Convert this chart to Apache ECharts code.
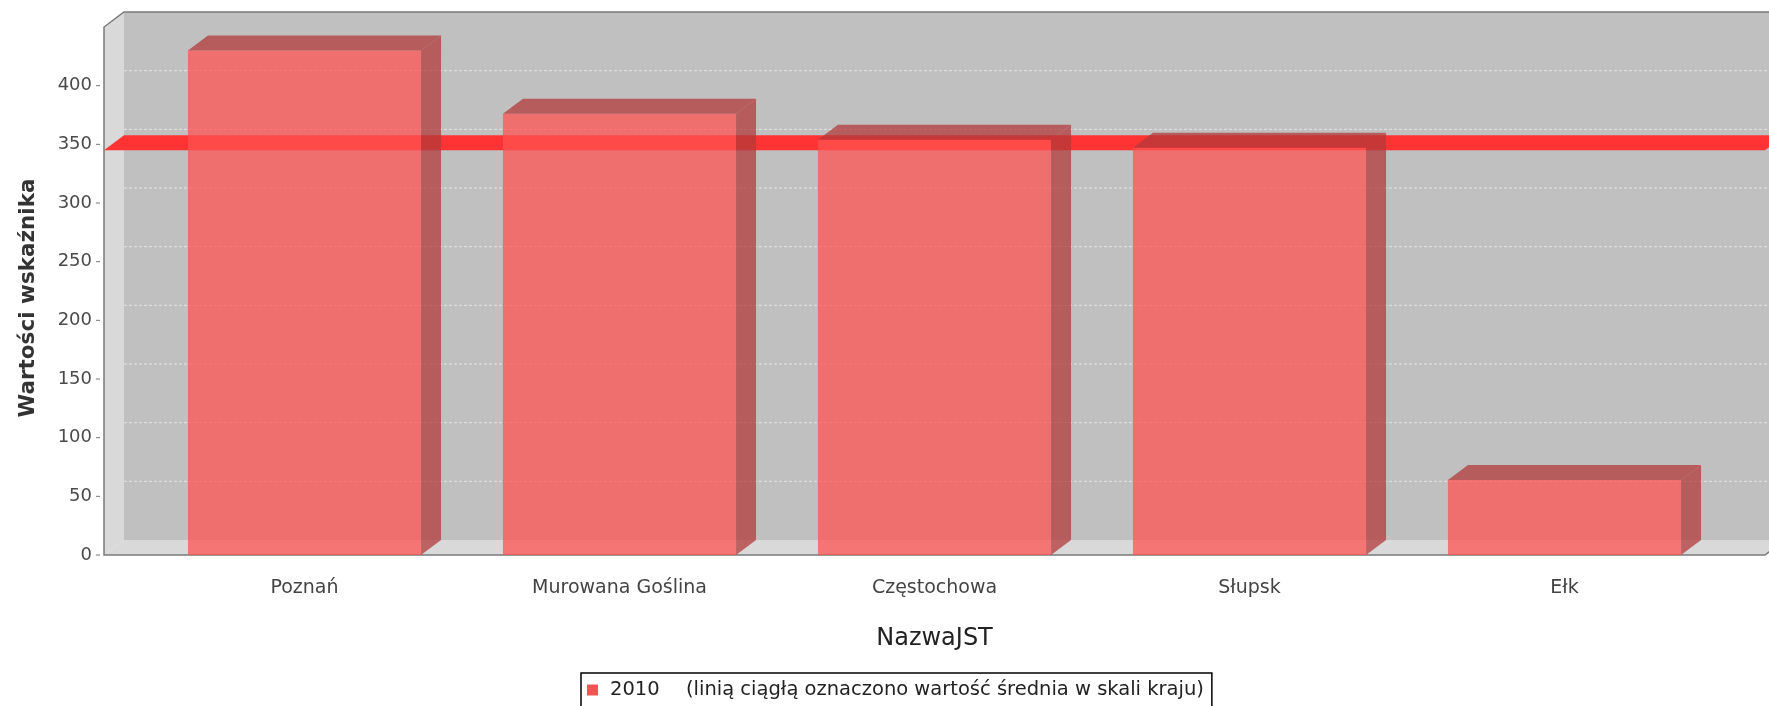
<!DOCTYPE html>
<html>
<head>
<meta charset="utf-8">
<script src="https://cdn.jsdelivr.net/npm/echarts@6/dist/echarts.min.js"></script>
<style>
html,body{margin:0;padding:0;background:#fff;}
#chart{width:1769px;height:706px;}
</style>
</head>
<body>
<div id="chart"></div>
<script>
// ---- data ----
const categories = ['Poznań', 'Murowana Goślina', 'Częstochowa', 'Słupsk', 'Ełk'];
const values2010 = [430, 376, 354, 347, 64];
const nationalAverage = [345];
const yTickValues = [0, 50, 100, 150, 200, 250, 300, 350, 400];
const seriesName = '2010';
const legendNote = '(linią ciągłą oznaczono wartość średnia w skali kraju)';

// ---- style constants ----
const DX = 20, DY = 15;          // 3D depth offset
const FONT = 'DejaVu Sans';

const chart = echarts.init(document.getElementById('chart'), null, {renderer: 'canvas'});

function renderWalls(params, api) {
  const cs = params.coordSys;
  const x = cs.x, y = cs.y, w = cs.width, h = cs.height;
  const children = [];
  children.push({type: 'rect', shape: {x: x + DX, y: y - DY, width: w, height: h},
    style: {fill: '#C0C0C0'}});
  children.push({type: 'polygon', shape: {points: [[x, y], [x + DX, y - DY], [x + DX, y + h - DY], [x, y + h]]},
    style: {fill: '#D9D9D9'}});
  children.push({type: 'polygon', shape: {points: [[x, y + h], [x + DX, y + h - DY], [x + w + DX, y + h - DY], [x + w, y + h]]},
    style: {fill: '#D9D9D9'}});
  yTickValues.forEach(function (v) {
    if (v === 0) return;
    const py = api.coord([0, v])[1] - DY;
    children.push({type: 'line', shape: {x1: x + DX, y1: py, x2: x + w + DX, y2: py},
      style: {stroke: '#E4E4E4', lineWidth: 1, lineDash: [3, 2]}});
  });
  // y-axis tick marks (positions from the axis scale)
  yTickValues.forEach(function (v) {
    const py = api.coord([0, v])[1];
    children.push({type: 'line', shape: {x1: x - 8, y1: py, x2: x - 4, y2: py},
      style: {stroke: '#777', lineWidth: 1}});
  });
  children.push({type: 'polyline', shape: {points: [
      [x + w + DX, y + h - DY], [x + w, y + h], [x, y + h], [x, y], [x + DX, y - DY], [x + w + DX, y - DY]]},
    style: {stroke: '#7A7A7A', lineWidth: 1.5, fill: null}});
  return {type: 'group', children: children};
}

function renderBand(params, api) {
  const cs = params.coordSys;
  const x = cs.x, w = cs.width;
  const py = api.coord([0, api.value(1)])[1];
  return {type: 'polygon', shape: {points: [[x, py], [x + DX, py - DY], [x + w + DX, py - DY], [x + w, py]]},
    style: {fill: '#FF3333'}};
}

function renderBar(params, api) {
  const idx = api.value(0);
  const top = api.coord([idx, api.value(1)]);
  const base = api.coord([idx, 0]);
  const band = api.size([1, 0])[0];
  const half = band * 0.74 / 2;
  const x0 = top[0] - half, x1 = top[0] + half;
  const ty = top[1], by = base[1];
  return {type: 'group', children: [
    {type: 'rect', shape: {x: x0, y: ty, width: x1 - x0, height: by - ty},
      style: {fill: 'rgba(255,82,82,0.74)'}},
    {type: 'polygon', shape: {points: [[x0, ty], [x0 + DX, ty - DY], [x1 + DX, ty - DY], [x1, ty]]},
      style: {fill: 'rgba(178,56,56,0.74)'}},
    {type: 'polygon', shape: {points: [[x1, ty], [x1 + DX, ty - DY], [x1 + DX, by - DY], [x1, by]]},
      style: {fill: 'rgba(178,56,56,0.74)'}}
  ]};
}

const option = {
  backgroundColor: '#ffffff',
  animation: false,
  grid: [
    {left: 104, right: 4, top: 27, bottom: 151},
    {left: 147, right: 47, top: 27, bottom: 151}
  ],
  xAxis: [
    {gridIndex: 0, type: 'value', min: 0, max: 1, show: false},
    {gridIndex: 1, type: 'category', data: categories,
      axisLine: {show: false}, axisTick: {show: false},
      axisLabel: {margin: 24, fontFamily: FONT, fontSize: 19, color: '#444'},
      name: 'NazwaJST', nameLocation: 'middle', nameGap: 72,
      nameTextStyle: {fontFamily: FONT, fontSize: 24, color: '#222'}}
  ],
  yAxis: [
    {gridIndex: 0, type: 'value', min: 0, max: 450, interval: 50, offset: 6,
      axisLine: {show: false},
      axisTick: {show: false},
      axisLabel: {margin: 6, fontFamily: FONT, fontSize: 18, color: '#4a4a4a', customValues: yTickValues},
      splitLine: {show: false},
      name: 'Wartości wskaźnika', nameLocation: 'middle', nameGap: 59, nameRotate: 90,
      nameTextStyle: {fontFamily: FONT, fontSize: 21.5, fontWeight: 'bold', color: '#333',
        padding: [0, 14, 0, 0]}},
    {gridIndex: 1, type: 'value', min: 0, max: 450, show: false}
  ],
  legend: {
    data: [seriesName],
    left: 581, top: 673,
    padding: [7, 8, 8, 6],
    borderColor: '#000', borderWidth: 1.5, borderRadius: 0,
    itemWidth: 11, itemHeight: 11, itemGap: 6,
    icon: 'rect',
    formatter: function (name) { return '{a|' + name + '}{b|' + legendNote + '}'; },
    textStyle: {fontFamily: FONT, fontSize: 19.5, color: '#222',
      rich: {a: {fontFamily: FONT, fontSize: 19.5, color: '#222', width: 76, padding: [0, 0, 0, 7]},
             b: {fontFamily: FONT, fontSize: 19.5, color: '#222'}}}
  },
  series: [
    {type: 'custom', name: 'walls', xAxisIndex: 0, yAxisIndex: 0, z: 1, clip: false,
      silent: true, renderItem: renderWalls, data: [[0, 0]]},
    {type: 'custom', name: 'average', xAxisIndex: 0, yAxisIndex: 0, z: 2, clip: false,
      silent: true, renderItem: renderBand, data: nationalAverage.map(function (v) { return [0, v]; })},
    {type: 'custom', name: seriesName, xAxisIndex: 1, yAxisIndex: 1, z: 3, clip: false,
      itemStyle: {color: '#F25454'},
      renderItem: renderBar,
      encode: {x: 0, y: 1},
      data: values2010.map(function (v, i) { return [i, v]; })}
  ]
};
chart.setOption(option);
</script>
</body>
</html>
